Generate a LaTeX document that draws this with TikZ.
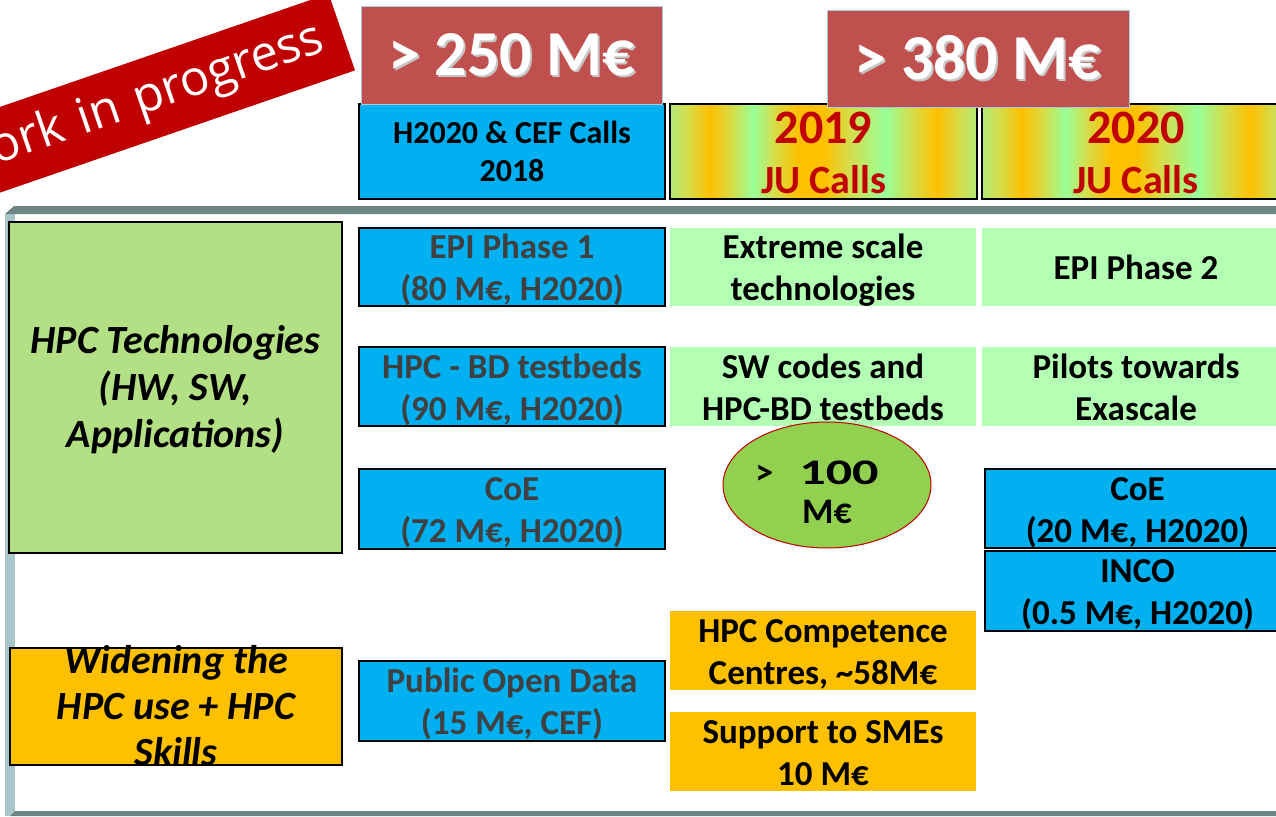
\documentclass[tikz,border=0pt]{standalone}
\usepackage{fontspec}
\usepackage{graphicx}
\setmainfont{Carlito}
\newfontfamily\bannerfont{Open Sans}
\usetikzlibrary{shapes.geometric}
\definecolor{cblue}{HTML}{00B0F0}
\definecolor{cltgreen}{HTML}{B3FFB3}
\definecolor{cgreen}{HTML}{B3DF85}
\definecolor{corange}{HTML}{FFC000}
\definecolor{cred}{HTML}{C0504D}
\definecolor{credborder}{HTML}{A9CCD4}
\definecolor{cdarkred}{HTML}{C00000}
\definecolor{cgraytext}{HTML}{404040}
\definecolor{cellipse}{HTML}{92D050}
\definecolor{framedark}{HTML}{6E8585}
\definecolor{framelight}{HTML}{A8C6CC}
\definecolor{jyg}{HTML}{B4EA78}
\definecolor{jmid}{HTML}{D6DC48}
\definecolor{jor}{HTML}{FFC000}
\definecolor{jgr}{HTML}{99FF99}
\pgfdeclarehorizontalshading{jushade}{100bp}{color(0bp)=(jyg); color(25bp)=(jyg); color(28bp)=(jmid); color(31.5bp)=(jor); color(35bp)=(jmid); color(38.5bp)=(jgr); color(42bp)=(jmid); color(46bp)=(jor); color(50bp)=(jor); color(54bp)=(jmid); color(60bp)=(jgr); color(64.5bp)=(jmid); color(68.5bp)=(jor); color(72bp)=(jmid); color(75bp)=(jyg); color(100bp)=(jyg)}
% fixed line boxes, so every line sits at the same place whatever its letters
\newcommand{\lnA}[1]{\raisebox{0pt}[28pt][3pt]{#1}}
\newcommand{\lnH}[1]{\raisebox{0pt}[24pt][3pt]{#1}}
\newcommand{\lnJ}[1]{\raisebox{0pt}[36pt][3pt]{#1}}
\newcommand{\lnS}[1]{\raisebox{0pt}[25pt][0pt]{#1}}
\newcommand{\lnE}[1]{\raisebox{0pt}[38pt][0pt]{#1}}
\tikzset{
  bx/.style={rectangle, inner sep=0pt, align=center, font=\fontsize{35}{42}\selectfont\bfseries},
  bluebox/.style={bx, fill=cblue, draw=black, line width=1.5pt},
  graybluebox/.style={bluebox, text=cgraytext},
  greenbox/.style={bx, fill=cltgreen},
  orangebox/.style={bx, fill=corange},
  redhead/.style={rectangle, inner sep=0pt, fill=cred, draw=credborder, line width=1pt, text=white, font=\fontsize{64}{64}\selectfont\bfseries},
  jubox/.style={rectangle, inner sep=0pt, align=center, shading=jushade, draw=black, line width=1.5pt, text=cdarkred,
    font=\fontsize{40}{50}\selectfont\bfseries},
  sidebox/.style={rectangle, inner sep=0pt, align=center, draw=black, line width=1.5pt},
}
\newcommand{\shtext}[1]{{\color{black!22}\rlap{\kern2pt\raisebox{-2pt}{#1}}}#1}
\begin{document}
\begin{tikzpicture}[x=1pt,y=-1pt]
\useasboundingbox (0,0) rectangle (1276,816);
\clip (0,0) rectangle (1276,816);
\fill[white] (0,0) rectangle (1276,816);
% frame
\fill[framelight] (5,214) rectangle (15,816);
\fill[framedark] (5,214) -- (14,206) -- (1276,206) -- (1276,214) -- cycle;
\fill[framedark] (15,811) -- (1276,811) -- (1276,816) -- (10,816) -- cycle;
% banner
\node[rotate=19, anchor=east, fill=cdarkred, text=white, minimum height=81, text width=560, align=right, inner xsep=20, inner ysep=0, font=\bannerfont\fontsize{49}{49}\selectfont] (banner) at (342,32) {Work in progress};
% header row
\node[bluebox, minimum width=306, minimum height=95, font=\fontsize{32}{38}\selectfont\bfseries] (h2020) at (512,151.5) {\lnH{H2020 \& CEF Calls}\\\lnH{2018}};
\node[jubox, minimum width=307, minimum height=95] (j2019) at (823.5,151.5) {\lnJ{\fontsize{48}{50}\selectfont 2019}\\\lnJ{JU Calls}};
\node[jubox, minimum width=308, minimum height=95] (j2020) at (1136,151.5) {\lnJ{\fontsize{48}{50}\selectfont 2020}\\\lnJ{JU Calls}};
\node[redhead, minimum width=301, minimum height=97] (r250) at (511.5,55.5) {\shtext{> 250 M€}};
\node[redhead, minimum width=302, minimum height=96] (r380) at (978,59) {\shtext{> 380 M€}};
% left labels
\node[sidebox, fill=cgreen, minimum width=333, minimum height=331, font=\fontsize{40}{47}\selectfont\bfseries\itshape] (tech) at (175.5,387.5) {\lnS{HPC Technologies}\\\lnS{(HW, SW,}\\\lnS{Applications)}};
\node[sidebox, fill=corange, minimum width=332, minimum height=117, font=\fontsize{40}{46}\selectfont\bfseries\itshape] (widen) at (176,706.5) {\lnS{Widening the}\\\lnS{HPC use + HPC}\\\lnS{Skills}};
% column 2018
\node[graybluebox, minimum width=306, minimum height=78] (epi1) at (512,267) {\lnA{EPI Phase 1}\\\lnA{(80 M€, H2020)}};
\node[graybluebox, minimum width=306, minimum height=79] (hpcbd) at (512,386.5) {\lnA{HPC - BD testbeds}\\\lnA{(90 M€, H2020)}};
\node[graybluebox, minimum width=306, minimum height=80] (coe1) at (512,509) {\lnA{CoE}\\\lnA{(72 M€, H2020)}};
\node[graybluebox, minimum width=306, minimum height=80] (pod) at (512,701) {\lnA{Public Open Data}\\\lnA{(15 M€, CEF)}};
% column 2019
\node[greenbox, minimum width=306, minimum height=78] (ext) at (823,267) {\lnA{Extreme scale}\\\lnA{technologies}};
\node[greenbox, minimum width=306, minimum height=79] (swc) at (823,386.5) {\lnA{SW codes and}\\\lnA{HPC-BD testbeds}};
\node[ellipse, inner sep=0pt, minimum width=208, minimum height=126, fill=cellipse, draw=cdarkred, line width=1pt, align=center, font=\fontsize{36}{39}\selectfont\bfseries] (ell) at (827,485) {\lnE{>\hspace{26pt}\scalebox{1.45}[1]{100}\kern20pt}\\\lnE{M€}};
\node[orangebox, minimum width=306, minimum height=79] (comp) at (823,650.5) {\lnA{HPC Competence}\\\lnA{Centres, \textasciitilde58M€}};
\node[orangebox, minimum width=306, minimum height=79] (sme) at (823,751.5) {\lnA{Support to SMEs}\\\lnA{10 M€}};
% column 2020
\node[greenbox, minimum width=308, minimum height=78] (epi2) at (1136,267) {\lnA{EPI Phase 2}};
\node[greenbox, minimum width=308, minimum height=79] (pil) at (1136,386.5) {\lnA{Pilots towards}\\\lnA{Exascale}};
\node[bluebox, minimum width=305, minimum height=79] (coe2) at (1137.5,508.5) {\lnA{CoE}\\\lnA{(20 M€, H2020)}};
\node[bluebox, minimum width=305, minimum height=80] (inco) at (1137.5,591) {\lnA{INCO}\\\lnA{(0.5 M€, H2020)}};
\end{tikzpicture}
\end{document}
